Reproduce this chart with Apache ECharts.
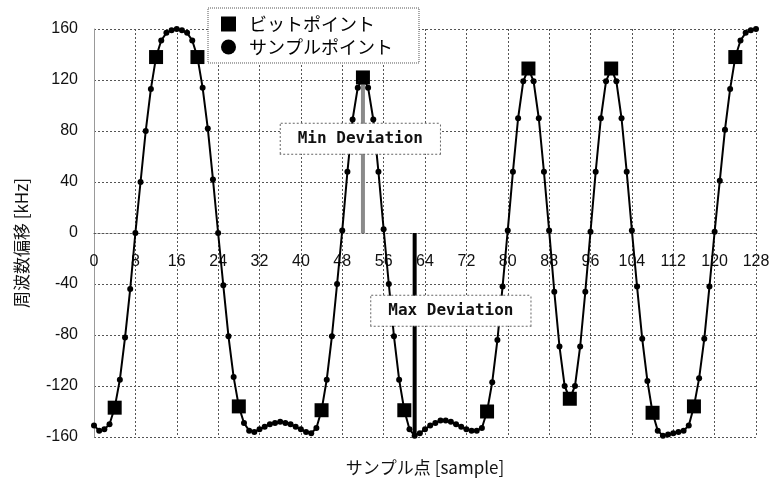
<!DOCTYPE html>
<html>
<head>
<meta charset="utf-8">
<script src="https://cdn.jsdelivr.net/npm/echarts@6.0.0/dist/echarts.min.js"></script>
<style>
  html, body { margin: 0; padding: 0; background: #fff; }
  #main { width: 772px; height: 479px; }
</style>
</head>
<body>
<div id="main"></div>
<script>
// frequency deviation per sample index 0..128 (kHz)
var sampleValues = [
  -151, -155, -154, -150, -137, -115, -82, -44, 0, 40,
  80, 113, 138, 151, 157, 159, 160, 159, 157, 151,
  138, 114, 82, 42, 0, -41, -81, -113, -136, -149,
  -155, -156, -154, -152, -150, -149, -148, -149, -150, -152,
  -154, -156, -157, -153, -139, -115, -81, -40, 2, 48,
  89, 114, 122, 114, 89, 48, 3, -40, -81, -115,
  -139, -154, -159, -157, -154, -151, -149, -147, -147, -148,
  -150, -152, -154, -155, -155, -153, -140, -117, -84, -42,
  2, 48, 90, 119, 129, 119, 90, 48, 2, -46,
  -89, -120, -130, -120, -89, -46, 1, 48, 90, 119,
  129, 119, 90, 48, 2, -42, -83, -116, -141, -155,
  -159, -158, -157, -156, -155, -151, -136, -114, -83, -42,
  1, 41, 81, 113, 138, 151, 157, 159, 160
];
// sample indices that are bit points
var bitIndex = [4, 12, 20, 28, 44, 52, 60, 76, 84, 92, 100, 108, 116, 124];
// deviation markers: [sample, from, to]
var minDeviation = [52, 0, 122];
var maxDeviation = [62, 0, -160];

var bitName = 'ビットポイント';
var sampleName = 'サンプルポイント';

var sampleData = sampleValues.map(function (v, i) { return [i, v]; });
var bitData = bitIndex.map(function (i) { return [i, sampleValues[i]]; });

var chart = echarts.init(document.getElementById('main'));

var gridLine = { show: true, lineStyle: { color: '#555', type: [2, 2], width: 1 } };
var tickFont = { fontFamily: 'Liberation Sans', fontSize: 16, color: '#111' };

var option = {
  animation: false,
  backgroundColor: '#fff',
  grid: { left: 94, right: 16, top: 29, bottom: 42, outerBoundsMode: 'none' },
  legend: {
    orient: 'vertical',
    left: 208,
    top: 8,
    padding: [7, 26, 7, 13],
    itemGap: 5,
    itemWidth: 15,
    itemHeight: 15,
    backgroundColor: '#fff',
    borderColor: '#555',
    borderWidth: 1,
    borderType: 'dotted',
    textStyle: { fontFamily: 'Noto Sans CJK JP', fontSize: 18, color: '#000', padding: [0, 0, 0, 8] },
    data: [
      { name: bitName, icon: 'rect', itemStyle: { opacity: 1 } },
      { name: sampleName, icon: 'circle' }
    ]
  },
  xAxis: {
    type: 'value',
    min: 0,
    max: 128,
    interval: 8,
    // axis drawn through the zero line of the 408px-tall plot
    offset: -204,
    name: 'サンプル点 [sample]',
    nameLocation: 'middle',
    nameGap: 226,
    nameTextStyle: { fontFamily: 'Noto Sans CJK JP', fontSize: 17, color: '#111' },
    axisLine: { show: true, onZero: false, lineStyle: { color: '#555', type: [2, 2], width: 1 } },
    axisTick: { show: false },
    axisLabel: Object.assign({ margin: 21 }, tickFont),
    splitLine: gridLine
  },
  yAxis: {
    type: 'value',
    min: -160,
    max: 160,
    interval: 40,
    name: '周波数偏移 [kHz]',
    nameLocation: 'middle',
    nameGap: 64,
    nameTextStyle: { fontFamily: 'Noto Sans CJK JP', fontSize: 17, color: '#111', padding: [0, 20, 0, 0] },
    axisLine: { show: true, onZero: false, lineStyle: { color: '#999', width: 1 } },
    axisTick: { show: false },
    axisLabel: Object.assign({ margin: 16 }, tickFont),
    splitLine: gridLine
  },
  series: [
    {
      name: 'Min Deviation',
      type: 'line',
      z: 1,
      silent: true,
      symbol: 'none',
      lineStyle: { color: '#8a8a8a', width: 4 },
      data: [[minDeviation[0], minDeviation[1]], [minDeviation[0], minDeviation[2]]],
      markPoint: {
        symbol: 'rect',
        symbolSize: 1,
        itemStyle: { color: 'rgba(0,0,0,0)' },
        label: {
          show: true,
          position: 'inside',
          formatter: '{b}',
          fontFamily: 'DejaVu Sans Mono',
          fontWeight: 'bold',
          fontSize: 16,
          color: '#111',
          backgroundColor: '#fff',
          borderColor: '#666',
          borderWidth: 1,
          borderType: 'dotted',
          padding: [7, 17]
        },
        data: [
          { name: 'Min Deviation', coord: [51.5, 74] },
          { name: 'Max Deviation', coord: [69, -61] }
        ]
      }
    },
    {
      name: 'Max Deviation',
      type: 'line',
      z: 1,
      silent: true,
      symbol: 'none',
      lineStyle: { color: '#000', width: 4 },
      data: [[maxDeviation[0], maxDeviation[1]], [maxDeviation[0], maxDeviation[2]]]
    },
    {
      name: sampleName,
      type: 'line',
      z: 2,
      symbol: 'circle',
      symbolSize: 6,
      itemStyle: { color: '#000' },
      lineStyle: { color: '#000', width: 2 },
      data: sampleData
    },
    {
      name: bitName,
      type: 'scatter',
      z: 3,
      symbol: 'rect',
      symbolSize: 14,
      itemStyle: { color: '#000', opacity: 1 },
      data: bitData
    }
  ]
};
chart.setOption(option);
</script>
</body>
</html>
